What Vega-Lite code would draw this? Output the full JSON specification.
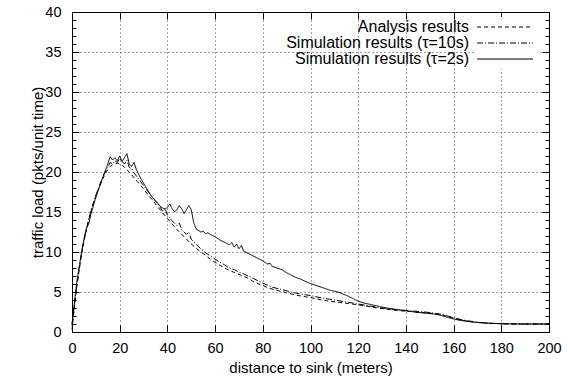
{
  "$schema": "https://vega.github.io/schema/vega-lite/v6.json",
  "width": 477,
  "height": 320,
  "autosize": {"type": "none"},
  "padding": {"left": 72, "top": 12, "right": 19, "bottom": 49},
  "background": "white",
  "config": {
    "view": {"stroke": null},
    "font": "Liberation Sans",
    "axis": {"labelFont": "Liberation Sans", "titleFont": "Liberation Sans", "labelFontSize": 14.5, "titleFontSize": 15, "titleFontWeight": "normal", "labelColor": "black", "titleColor": "black", "domainColor": "black", "tickColor": "black", "gridColor": "#444", "gridDash": [1, 3], "gridWidth": 1},
    "legend": {"labelFont": "Liberation Sans", "labelFontSize": 16, "labelColor": "black"}
  },
  "data": {"values": [
    {"s":"Analysis","d":0,"v":0.3},{"s":"Analysis","d":1,"v":3.0},{"s":"Analysis","d":2,"v":5.6},{"s":"Analysis","d":3,"v":7.7},{"s":"Analysis","d":4,"v":9.6},{"s":"Analysis","d":5,"v":11.3},{"s":"Analysis","d":6,"v":12.7},{"s":"Analysis","d":7,"v":14.0},{"s":"Analysis","d":8,"v":15.1},{"s":"Analysis","d":9,"v":16.1},{"s":"Analysis","d":10,"v":17.0},{"s":"Analysis","d":11,"v":17.8},{"s":"Analysis","d":12,"v":18.5},{"s":"Analysis","d":13,"v":19.2},{"s":"Analysis","d":14,"v":19.8},{"s":"Analysis","d":15,"v":20.3},{"s":"Analysis","d":16,"v":20.7},{"s":"Analysis","d":17,"v":20.9},{"s":"Analysis","d":18,"v":21.0},{"s":"Analysis","d":19,"v":21.1},{"s":"Analysis","d":20,"v":21.0},{"s":"Analysis","d":21,"v":20.9},{"s":"Analysis","d":22,"v":20.6},{"s":"Analysis","d":23,"v":20.3},{"s":"Analysis","d":24,"v":20.0},{"s":"Analysis","d":26,"v":19.3},{"s":"Analysis","d":28,"v":18.6},{"s":"Analysis","d":30,"v":17.9},{"s":"Analysis","d":32,"v":17.1},{"s":"Analysis","d":34,"v":16.4},{"s":"Analysis","d":36,"v":15.6},{"s":"Analysis","d":38,"v":14.9},{"s":"Analysis","d":40,"v":14.2},{"s":"Analysis","d":42,"v":13.5},{"s":"Analysis","d":44,"v":12.8},{"s":"Analysis","d":46,"v":12.2},{"s":"Analysis","d":48,"v":11.6},{"s":"Analysis","d":50,"v":11.0},{"s":"Analysis","d":52,"v":10.5},{"s":"Analysis","d":54,"v":10.0},{"s":"Analysis","d":56,"v":9.6},{"s":"Analysis","d":58,"v":9.1},{"s":"Analysis","d":60,"v":8.7},{"s":"Analysis","d":62,"v":8.35},{"s":"Analysis","d":64,"v":8.0},{"s":"Analysis","d":66,"v":7.7},{"s":"Analysis","d":68,"v":7.45},{"s":"Analysis","d":70,"v":7.2},{"s":"Analysis","d":72,"v":6.95},{"s":"Analysis","d":74,"v":6.7},{"s":"Analysis","d":76,"v":6.3},{"s":"Analysis","d":78,"v":6.05},{"s":"Analysis","d":80,"v":5.8},{"s":"Analysis","d":82,"v":5.55},{"s":"Analysis","d":84,"v":5.35},{"s":"Analysis","d":86,"v":5.2},{"s":"Analysis","d":88,"v":5.05},{"s":"Analysis","d":90,"v":4.9},{"s":"Analysis","d":92,"v":4.75},{"s":"Analysis","d":94,"v":4.6},{"s":"Analysis","d":96,"v":4.5},{"s":"Analysis","d":98,"v":4.4},{"s":"Analysis","d":100,"v":4.3},{"s":"Analysis","d":104,"v":4.05},{"s":"Analysis","d":108,"v":3.85},{"s":"Analysis","d":112,"v":3.7},{"s":"Analysis","d":116,"v":3.55},{"s":"Analysis","d":120,"v":3.4},{"s":"Analysis","d":124,"v":3.2},{"s":"Analysis","d":128,"v":3.0},{"s":"Analysis","d":132,"v":2.85},{"s":"Analysis","d":136,"v":2.7},{"s":"Analysis","d":140,"v":2.6},{"s":"Analysis","d":144,"v":2.5},{"s":"Analysis","d":148,"v":2.4},{"s":"Analysis","d":152,"v":2.3},{"s":"Analysis","d":155,"v":2.15},{"s":"Analysis","d":158,"v":1.9},{"s":"Analysis","d":161,"v":1.65},{"s":"Analysis","d":164,"v":1.45},{"s":"Analysis","d":167,"v":1.3},{"s":"Analysis","d":170,"v":1.2},{"s":"Analysis","d":174,"v":1.1},{"s":"Analysis","d":178,"v":1.05},{"s":"Analysis","d":182,"v":1.0},{"s":"Analysis","d":190,"v":1.0},{"s":"Analysis","d":200,"v":1.0},
    {"s":"τ=10s","d":0,"v":0.8},{"s":"τ=10s","d":1,"v":3.4},{"s":"τ=10s","d":2,"v":5.9},{"s":"τ=10s","d":3,"v":8.0},{"s":"τ=10s","d":4,"v":9.9},{"s":"τ=10s","d":5,"v":11.5},{"s":"τ=10s","d":6,"v":12.8},{"s":"τ=10s","d":7,"v":14.1},{"s":"τ=10s","d":8,"v":15.2},{"s":"τ=10s","d":9,"v":16.2},{"s":"τ=10s","d":10,"v":17.1},{"s":"τ=10s","d":11,"v":17.9},{"s":"τ=10s","d":12,"v":18.7},{"s":"τ=10s","d":13,"v":19.4},{"s":"τ=10s","d":14,"v":20.1},{"s":"τ=10s","d":15,"v":20.6},{"s":"τ=10s","d":16,"v":21.2},{"s":"τ=10s","d":17,"v":21.0},{"s":"τ=10s","d":18,"v":21.4},{"s":"τ=10s","d":19,"v":21.2},{"s":"τ=10s","d":20,"v":21.7},{"s":"τ=10s","d":21,"v":21.3},{"s":"τ=10s","d":22,"v":21.0},{"s":"τ=10s","d":23,"v":21.5},{"s":"τ=10s","d":24,"v":20.6},{"s":"τ=10s","d":25,"v":20.4},{"s":"τ=10s","d":26,"v":19.9},{"s":"τ=10s","d":28,"v":19.1},{"s":"τ=10s","d":30,"v":18.3},{"s":"τ=10s","d":32,"v":17.5},{"s":"τ=10s","d":34,"v":16.8},{"s":"τ=10s","d":36,"v":16.0},{"s":"τ=10s","d":38,"v":15.1},{"s":"τ=10s","d":39,"v":15.5},{"s":"τ=10s","d":40,"v":14.6},{"s":"τ=10s","d":42,"v":13.9},{"s":"τ=10s","d":44,"v":13.3},{"s":"τ=10s","d":45,"v":13.6},{"s":"τ=10s","d":46,"v":12.8},{"s":"τ=10s","d":48,"v":12.2},{"s":"τ=10s","d":49,"v":12.5},{"s":"τ=10s","d":50,"v":11.6},{"s":"τ=10s","d":52,"v":11.0},{"s":"τ=10s","d":54,"v":10.4},{"s":"τ=10s","d":56,"v":9.9},{"s":"τ=10s","d":58,"v":9.5},{"s":"τ=10s","d":60,"v":9.1},{"s":"τ=10s","d":62,"v":8.7},{"s":"τ=10s","d":64,"v":8.4},{"s":"τ=10s","d":66,"v":8.0},{"s":"τ=10s","d":68,"v":7.8},{"s":"τ=10s","d":70,"v":7.5},{"s":"τ=10s","d":72,"v":7.25},{"s":"τ=10s","d":74,"v":7.0},{"s":"τ=10s","d":76,"v":6.7},{"s":"τ=10s","d":78,"v":6.4},{"s":"τ=10s","d":80,"v":6.1},{"s":"τ=10s","d":82,"v":5.85},{"s":"τ=10s","d":84,"v":5.6},{"s":"τ=10s","d":86,"v":5.45},{"s":"τ=10s","d":88,"v":5.3},{"s":"τ=10s","d":90,"v":5.15},{"s":"τ=10s","d":92,"v":5.0},{"s":"τ=10s","d":94,"v":4.85},{"s":"τ=10s","d":96,"v":4.75},{"s":"τ=10s","d":98,"v":4.65},{"s":"τ=10s","d":100,"v":4.55},{"s":"τ=10s","d":104,"v":4.3},{"s":"τ=10s","d":108,"v":4.1},{"s":"τ=10s","d":112,"v":3.9},{"s":"τ=10s","d":116,"v":3.7},{"s":"τ=10s","d":120,"v":3.5},{"s":"τ=10s","d":124,"v":3.3},{"s":"τ=10s","d":128,"v":3.1},{"s":"τ=10s","d":132,"v":2.95},{"s":"τ=10s","d":136,"v":2.8},{"s":"τ=10s","d":140,"v":2.7},{"s":"τ=10s","d":144,"v":2.6},{"s":"τ=10s","d":148,"v":2.5},{"s":"τ=10s","d":152,"v":2.35},{"s":"τ=10s","d":155,"v":2.2},{"s":"τ=10s","d":158,"v":1.95},{"s":"τ=10s","d":161,"v":1.7},{"s":"τ=10s","d":164,"v":1.5},{"s":"τ=10s","d":167,"v":1.35},{"s":"τ=10s","d":170,"v":1.2},{"s":"τ=10s","d":174,"v":1.1},{"s":"τ=10s","d":178,"v":1.05},{"s":"τ=10s","d":182,"v":1.0},{"s":"τ=10s","d":190,"v":1.0},{"s":"τ=10s","d":200,"v":1.0},
    {"s":"τ=2s","d":0,"v":1.0},{"s":"τ=2s","d":1,"v":3.6},{"s":"τ=2s","d":2,"v":6.2},{"s":"τ=2s","d":3,"v":8.1},{"s":"τ=2s","d":4,"v":10.0},{"s":"τ=2s","d":5,"v":11.6},{"s":"τ=2s","d":6,"v":12.9},{"s":"τ=2s","d":7,"v":13.5},{"s":"τ=2s","d":8,"v":14.8},{"s":"τ=2s","d":9,"v":15.8},{"s":"τ=2s","d":10,"v":16.8},{"s":"τ=2s","d":11,"v":17.7},{"s":"τ=2s","d":12,"v":18.6},{"s":"τ=2s","d":13,"v":19.4},{"s":"τ=2s","d":14,"v":20.2},{"s":"τ=2s","d":15,"v":21.0},{"s":"τ=2s","d":16,"v":21.9},{"s":"τ=2s","d":17,"v":21.5},{"s":"τ=2s","d":18,"v":21.8},{"s":"τ=2s","d":19,"v":21.4},{"s":"τ=2s","d":20,"v":22.0},{"s":"τ=2s","d":21,"v":21.3},{"s":"τ=2s","d":22,"v":21.8},{"s":"τ=2s","d":23,"v":22.3},{"s":"τ=2s","d":24,"v":21.0},{"s":"τ=2s","d":25,"v":20.7},{"s":"τ=2s","d":26,"v":21.2},{"s":"τ=2s","d":27,"v":20.3},{"s":"τ=2s","d":28,"v":19.7},{"s":"τ=2s","d":29,"v":19.1},{"s":"τ=2s","d":30,"v":18.6},{"s":"τ=2s","d":31,"v":18.1},{"s":"τ=2s","d":32,"v":17.6},{"s":"τ=2s","d":33,"v":17.1},{"s":"τ=2s","d":34,"v":16.7},{"s":"τ=2s","d":35,"v":16.4},{"s":"τ=2s","d":36,"v":16.1},{"s":"τ=2s","d":37,"v":15.7},{"s":"τ=2s","d":38,"v":15.5},{"s":"τ=2s","d":39,"v":15.3},{"s":"τ=2s","d":40,"v":15.6},{"s":"τ=2s","d":41,"v":16.0},{"s":"τ=2s","d":42,"v":15.4},{"s":"τ=2s","d":43,"v":15.0},{"s":"τ=2s","d":44,"v":15.3},{"s":"τ=2s","d":45,"v":15.8},{"s":"τ=2s","d":46,"v":15.4},{"s":"τ=2s","d":47,"v":14.8},{"s":"τ=2s","d":48,"v":15.3},{"s":"τ=2s","d":49,"v":15.8},{"s":"τ=2s","d":50,"v":15.3},{"s":"τ=2s","d":51,"v":13.7},{"s":"τ=2s","d":52,"v":12.9},{"s":"τ=2s","d":53,"v":12.7},{"s":"τ=2s","d":54,"v":12.5},{"s":"τ=2s","d":55,"v":12.6},{"s":"τ=2s","d":56,"v":12.3},{"s":"τ=2s","d":57,"v":12.4},{"s":"τ=2s","d":58,"v":12.2},{"s":"τ=2s","d":60,"v":11.9},{"s":"τ=2s","d":62,"v":11.5},{"s":"τ=2s","d":64,"v":11.2},{"s":"τ=2s","d":66,"v":10.9},{"s":"τ=2s","d":67,"v":11.2},{"s":"τ=2s","d":68,"v":10.6},{"s":"τ=2s","d":69,"v":11.0},{"s":"τ=2s","d":70,"v":10.4},{"s":"τ=2s","d":71,"v":10.8},{"s":"τ=2s","d":72,"v":10.1},{"s":"τ=2s","d":74,"v":9.8},{"s":"τ=2s","d":76,"v":9.5},{"s":"τ=2s","d":78,"v":9.2},{"s":"τ=2s","d":80,"v":8.9},{"s":"τ=2s","d":82,"v":8.5},{"s":"τ=2s","d":83,"v":8.6},{"s":"τ=2s","d":84,"v":8.2},{"s":"τ=2s","d":86,"v":8.0},{"s":"τ=2s","d":88,"v":7.8},{"s":"τ=2s","d":90,"v":7.4},{"s":"τ=2s","d":92,"v":7.1},{"s":"τ=2s","d":94,"v":6.8},{"s":"τ=2s","d":96,"v":6.6},{"s":"τ=2s","d":98,"v":6.3},{"s":"τ=2s","d":100,"v":6.05},{"s":"τ=2s","d":102,"v":5.85},{"s":"τ=2s","d":104,"v":5.65},{"s":"τ=2s","d":106,"v":5.45},{"s":"τ=2s","d":108,"v":5.25},{"s":"τ=2s","d":110,"v":5.1},{"s":"τ=2s","d":112,"v":4.95},{"s":"τ=2s","d":114,"v":4.7},{"s":"τ=2s","d":116,"v":4.45},{"s":"τ=2s","d":118,"v":4.15},{"s":"τ=2s","d":120,"v":3.85},{"s":"τ=2s","d":122,"v":3.65},{"s":"τ=2s","d":125,"v":3.45},{"s":"τ=2s","d":128,"v":3.25},{"s":"τ=2s","d":131,"v":3.05},{"s":"τ=2s","d":135,"v":2.85},{"s":"τ=2s","d":140,"v":2.65},{"s":"τ=2s","d":145,"v":2.45},{"s":"τ=2s","d":150,"v":2.3},{"s":"τ=2s","d":153,"v":2.2},{"s":"τ=2s","d":156,"v":1.95},{"s":"τ=2s","d":159,"v":1.7},{"s":"τ=2s","d":162,"v":1.5},{"s":"τ=2s","d":165,"v":1.35},{"s":"τ=2s","d":170,"v":1.2},{"s":"τ=2s","d":175,"v":1.1},{"s":"τ=2s","d":180,"v":1.05},{"s":"τ=2s","d":190,"v":1.0},{"s":"τ=2s","d":200,"v":1.0}
  ]},
  "layer": [
    {
      "mark": {"type": "line", "color": "black", "strokeWidth": 1},
      "encoding": {
        "x": {"field": "d", "type": "quantitative", "scale": {"domain": [0, 200], "nice": false},
              "axis": {"orient": "bottom", "title": "distance to sink (meters)", "values": [0,20,40,60,80,100,120,140,160,180,200], "tickSize": -7, "labelPadding": 16, "titlePadding": 6, "grid": true, "labelFlush": false}},
        "y": {"field": "v", "type": "quantitative", "scale": {"domain": [0, 40], "nice": false},
              "axis": {"orient": "left", "title": "traffic load (pkts/unit time)", "values": [0,1,2,3,4,5,6,7,8,9,10,11,12,13,14,15,16,17,18,19,20,21,22,23,24,25,26,27,28,29,30,31,32,33,34,35,36,37,38,39,40],
                       "tickSize": {"condition": {"test": "datum.value % 5 === 0", "value": -7}, "value": -4},
                       "gridOpacity": {"condition": {"test": "datum.value % 5 === 0", "value": 1}, "value": 0},
                       "labelExpr": "datum.value % 5 === 0 ? datum.label : ''",
                       "labelPadding": 18, "titlePadding": -1, "grid": true, "labelFlush": false}},
        "strokeDash": {"field": "s", "type": "nominal",
                       "scale": {"domain": ["Analysis", "τ=10s", "τ=2s"], "range": [[4, 3], [6, 2, 1, 2], [1, 0]]},
                       "legend": {"title": null, "orient": "none", "legendX": 402, "legendY": 5,
                                  "symbolType": "M-4,0H4", "symbolSize": 196, "symbolStrokeWidth": 1, "symbolStrokeColor": "black", "symbolOffset": 21,
                                  "labelAlign": "right", "labelOffset": -44, "labelLimit": 400, "rowPadding": -4.5, "padding": 2, "fillColor": "white",
                                  "labelExpr": "datum.value == 'Analysis' ? 'Analysis results' : 'Simulation results (' + datum.value + ')'"}},
        "detail": {"field": "s"}
      }
    },
    {
      "mark": {"type": "line", "opacity": 0},
      "encoding": {
        "x": {"field": "d", "type": "quantitative", "scale": {"domain": [0, 200], "nice": false},
              "axis": {"orient": "top", "title": null, "labels": false, "values": [0,20,40,60,80,100,120,140,160,180,200], "tickSize": -7, "grid": false}},
        "y": {"field": "v", "type": "quantitative", "scale": {"domain": [0, 40], "nice": false},
              "axis": {"orient": "right", "title": null, "labels": false, "grid": false,
                       "values": [0,1,2,3,4,5,6,7,8,9,10,11,12,13,14,15,16,17,18,19,20,21,22,23,24,25,26,27,28,29,30,31,32,33,34,35,36,37,38,39,40],
                       "tickSize": {"condition": {"test": "datum.value % 5 === 0", "value": -7}, "value": -4}}},
        "detail": {"field": "s"}
      }
    }
  ],
  "resolve": {"axis": {"x": "independent", "y": "independent"}}
}
